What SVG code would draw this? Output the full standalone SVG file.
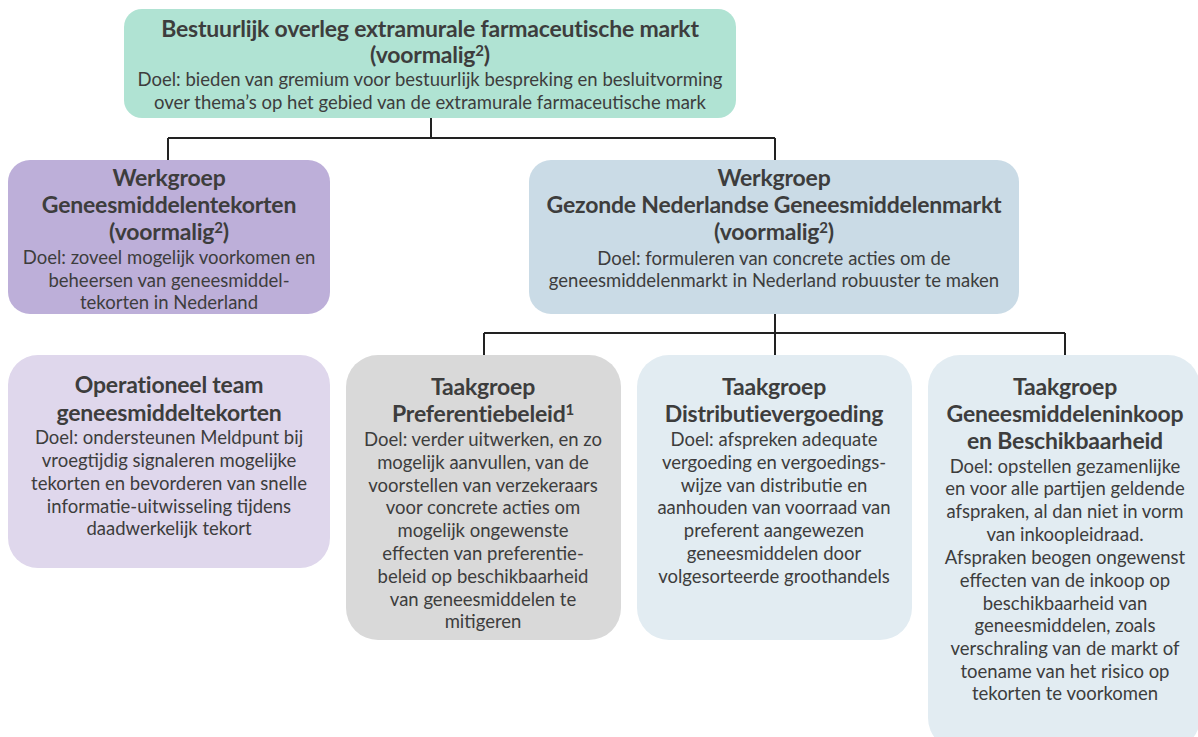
<svg xmlns="http://www.w3.org/2000/svg" width="1198" height="737" viewBox="0 0 1198 737">
<style>
text{font-family:Lato,"Open Sans","Liberation Sans",sans-serif;fill:#3d3d3d;text-anchor:middle}
.t{font-size:23px;font-weight:bold;letter-spacing:-0.2px}
.b{font-size:18.5px}
.c{fill:none;stroke:#222;stroke-width:2}
</style>
<rect width="1198" height="737" fill="#fff"/>
<g id="connectors">
<path class="c" d="M431 118V138M168 138H775M168 138V160M775 138V160"/>
<path class="c" d="M775 314V333M484 333H1065M484 333V355M775 333V355M1065 333V355"/>
</g>
<g id="bestuurlijk">
<rect x="124" y="9" width="612" height="109" rx="18" fill="#b0e3d3"/>
<text class="t" x="430" y="37">Bestuurlijk overleg extramurale farmaceutische markt</text>
<text class="t" x="430" y="63">(voormalig<tspan font-size="15" dy="-7">2</tspan><tspan dy="7">)</tspan></text>
<text class="b" x="430" y="86">Doel: bieden van gremium voor bestuurlijk bespreking en besluitvorming</text>
<text class="b" x="430" y="109">over thema’s op het gebied van de extramurale farmaceutische mark</text>
</g>
<g id="werkgroep-tekorten">
<rect x="8" y="160" width="322" height="154" rx="22" fill="#bdafd9"/>
<text class="t" x="169" y="186">Werkgroep</text>
<text class="t" x="169" y="213">Geneesmiddelentekorten</text>
<text class="t" x="169" y="240">(voormalig<tspan font-size="15" dy="-7">2</tspan><tspan dy="7">)</tspan></text>
<text class="b" x="169" y="264">Doel: zoveel mogelijk voorkomen en</text>
<text class="b" x="169" y="287">beheersen van geneesmiddel-</text>
<text class="b" x="169" y="309">tekorten in Nederland</text>
</g>
<g id="werkgroep-gezonde">
<rect x="529" y="160" width="490" height="154" rx="22" fill="#cadbe6"/>
<text class="t" x="774" y="186">Werkgroep</text>
<text class="t" x="774" y="213">Gezonde Nederlandse Geneesmiddelenmarkt</text>
<text class="t" x="774" y="240">(voormalig<tspan font-size="15" dy="-7">2</tspan><tspan dy="7">)</tspan></text>
<text class="b" x="774" y="265">Doel: formuleren van concrete acties om de</text>
<text class="b" x="774" y="287">geneesmiddelenmarkt in Nederland robuuster te maken</text>
</g>
<g id="operationeel-team">
<rect x="8" y="355" width="322" height="213" rx="30" fill="#dfd7ec"/>
<text class="t" x="169" y="393">Operationeel team</text>
<text class="t" x="169" y="421">geneesmiddeltekorten</text>
<text class="b" x="169" y="444">Doel: ondersteunen Meldpunt bij</text>
<text class="b" x="169" y="467">vroegtijdig signaleren mogelijke</text>
<text class="b" x="169" y="490">tekorten en bevorderen van snelle</text>
<text class="b" x="169" y="513">informatie-uitwisseling tijdens</text>
<text class="b" x="169" y="535">daadwerkelijk tekort</text>
</g>
<g id="taakgroep-preferentiebeleid">
<rect x="346" y="355" width="275" height="285" rx="32" fill="#d9d9d9"/>
<text class="t" x="483" y="395">Taakgroep</text>
<text class="t" x="483" y="422">Preferentiebeleid<tspan font-size="15" dy="-7">1</tspan></text>
<text class="b" x="483" y="446">Doel: verder uitwerken, en zo</text>
<text class="b" x="483" y="469">mogelijk aanvullen, van de</text>
<text class="b" x="483" y="492">voorstellen van verzekeraars</text>
<text class="b" x="483" y="514">voor concrete acties om</text>
<text class="b" x="483" y="537">mogelijk ongewenste</text>
<text class="b" x="483" y="560">effecten van preferentie-</text>
<text class="b" x="483" y="583">beleid op beschikbaarheid</text>
<text class="b" x="483" y="606">van geneesmiddelen te</text>
<text class="b" x="483" y="628">mitigeren</text>
</g>
<g id="taakgroep-distributie">
<rect x="637" y="355" width="275" height="285" rx="32" fill="#e2ecf2"/>
<text class="t" x="774" y="395">Taakgroep</text>
<text class="t" x="774" y="422">Distributievergoeding</text>
<text class="b" x="774" y="446">Doel: afspreken adequate</text>
<text class="b" x="774" y="469">vergoeding en vergoedings-</text>
<text class="b" x="774" y="492">wijze van distributie en</text>
<text class="b" x="774" y="514">aanhouden van voorraad van</text>
<text class="b" x="774" y="537">preferent aangewezen</text>
<text class="b" x="774" y="560">geneesmiddelen door</text>
<text class="b" x="774" y="583">volgesorteerde groothandels</text>
</g>
<g id="taakgroep-inkoop">
<rect x="928" y="355" width="272" height="395" rx="32" fill="#e2ecf2"/>
<text class="t" x="1065" y="395">Taakgroep</text>
<text class="t" x="1065" y="422">Geneesmiddeleninkoop</text>
<text class="t" x="1065" y="449">en Beschikbaarheid</text>
<text class="b" x="1065" y="473">Doel: opstellen gezamenlijke</text>
<text class="b" x="1065" y="495">en voor alle partijen geldende</text>
<text class="b" x="1065" y="518">afspraken, al dan niet in vorm</text>
<text class="b" x="1065" y="541">van inkoopleidraad.</text>
<text class="b" x="1065" y="564">Afspraken beogen ongewenst</text>
<text class="b" x="1065" y="587">effecten van de inkoop op</text>
<text class="b" x="1065" y="610">beschikbaarheid van</text>
<text class="b" x="1065" y="632">geneesmiddelen, zoals</text>
<text class="b" x="1065" y="655">verschraling van de markt of</text>
<text class="b" x="1065" y="678">toename van het risico op</text>
<text class="b" x="1065" y="700">tekorten te voorkomen</text>
</g>
</svg>
